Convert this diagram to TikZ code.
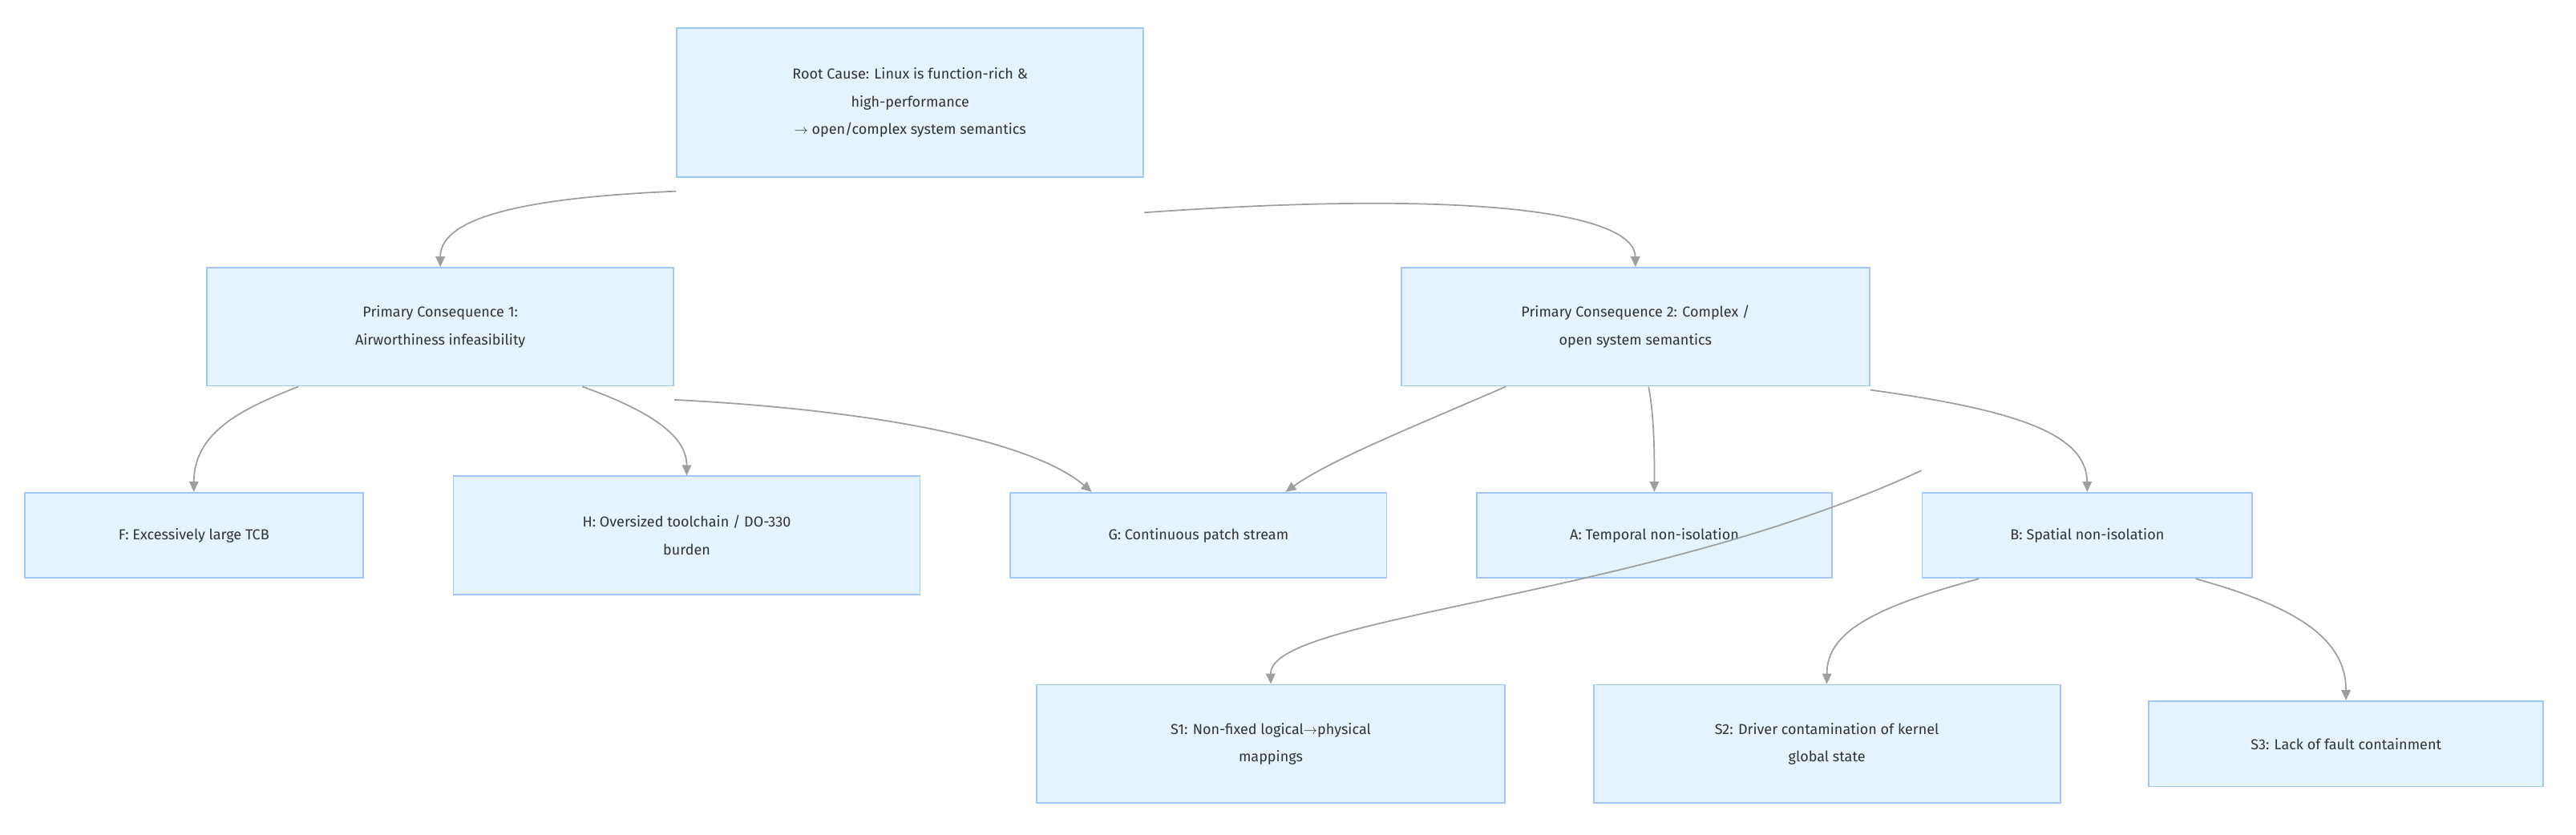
\documentclass[tikz,border=0pt]{standalone}
\usepackage{fontspec}
\setmainfont{Fira Sans}
\usetikzlibrary{arrows.meta}
\definecolor{boxfill}{HTML}{E4F3FD}
\definecolor{boxline}{HTML}{A3C6F2}
\definecolor{edge}{HTML}{9E9E9E}
\definecolor{txt}{HTML}{333333}
\begin{document}
\begin{tikzpicture}[x=0.05cm,y=-0.05cm,
 box/.style={draw=boxline,fill=boxfill,line width=1.3pt,align=center,text=txt,
   font=\fontsize{12.5}{24}\selectfont,inner sep=0pt},
 link/.style={draw=edge,line width=1.2pt,-{Triangle[length=9pt,width=8pt]}}]
\useasboundingbox (0,0) rectangle (1568,508.5);
\fill[white] (0,0) rectangle (1568,508.5);
\node[box,minimum width=284*0.05cm,minimum height=91*0.05cm] (root) at (554,62.5) {Root Cause: Linux is function-rich \&\\high-performance\\$\rightarrow$ open/complex system semantics};
\node[box,minimum width=284*0.05cm,minimum height=72*0.05cm] (p1) at (268,199) {Primary Consequence 1:\\Airworthiness infeasibility};
\node[box,minimum width=285*0.05cm,minimum height=72*0.05cm] (p2) at (995.5,199) {Primary Consequence 2: Complex /\\open system semantics};
\node[box,minimum width=206*0.05cm,minimum height=52*0.05cm] (f) at (118,326) {F: Excessively large TCB};
\node[box,minimum width=284*0.05cm,minimum height=72*0.05cm] (h) at (418,326) {H: Oversized toolchain / DO-330\\burden};
\node[box,minimum width=229*0.05cm,minimum height=52*0.05cm] (g) at (729.5,326) {G: Continuous patch stream};
\node[box,minimum width=216*0.05cm,minimum height=52*0.05cm] (a) at (1007,326) {A: Temporal non-isolation};
\node[box,minimum width=201*0.05cm,minimum height=52*0.05cm] (b) at (1270.5,326) {B: Spatial non-isolation};
\node[box,minimum width=285*0.05cm,minimum height=72*0.05cm] (s1) at (773.5,453) {S1: Non-fixed logical$\rightarrow$physical\\mappings};
\node[box,minimum width=284*0.05cm,minimum height=72*0.05cm] (s2) at (1112,453) {S2: Driver contamination of kernel\\global state};
\node[box,minimum width=240*0.05cm,minimum height=52*0.05cm] (s3) at (1428,453) {S3: Lack of fault containment};
\path[link] ([yshift=-8*0.05cm]root.south west) .. controls (330,120) and (268,130) .. (p1.north);
\path[link] ([yshift=-21*0.05cm]root.south east) .. controls (900,115) and (995,130) .. (p2.north);
\path[link] ([xshift=56*0.05cm]p1.south west) .. controls (150,248) and (118,262) .. (f.north);
\path[link] ([xshift=-56*0.05cm]p1.south east) .. controls (395,250) and (418,265) .. (h.north);
\path[link] ([yshift=-8*0.05cm]p1.south east) .. controls (540,250) and (630,270) .. ([xshift=-65*0.05cm]g.north);
\path[link] ([xshift=64*0.05cm]p2.south west) .. controls (860,260) and (810,280) .. ([xshift=53*0.05cm]g.north);
\path[link] ([xshift=8*0.05cm]p2.south) .. controls (1007,255) and (1007,275) .. (a.north);
\path[link] ([yshift=-2*0.05cm]p2.south east) .. controls (1230,250) and (1270,265) .. (b.north);
\path[link] ([yshift=13*0.05cm]b.north west) .. controls (1000,365) and (773,375) .. (s1.north);
\path[link] ([xshift=35*0.05cm]b.south west) .. controls (1140,370) and (1112,385) .. (s2.north);
\path[link] ([xshift=-35*0.05cm]b.south east) .. controls (1400,370) and (1428,390) .. (s3.north);
\end{tikzpicture}
\end{document}
